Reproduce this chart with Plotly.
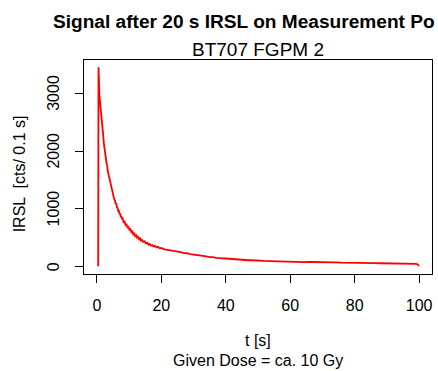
import plotly.graph_objects as go

# Data (time in s, IRSL counts per 0.1 s)
time_s = [0.4, 0.5, 0.6, 0.7, 0.8, 0.9, 1.0, 1.1, 1.2, 1.3, 1.4, 1.5, 1.6, 1.7, 1.8, 1.9,
          2.0, 2.2, 2.4, 2.6, 2.8, 3.0, 3.2, 3.4, 3.6, 3.8, 4.0, 4.2, 4.4, 4.6, 4.8,
          5.0, 5.2, 5.4, 5.6, 5.8, 6.0, 6.2, 6.4, 6.6, 6.8, 7.0, 7.2, 7.4, 7.6, 7.8,
          8.0, 8.3, 8.6, 8.9, 9.2, 9.5, 9.8, 10.1, 10.4, 10.7, 11.0, 11.3, 11.6, 11.9,
          12.2, 12.5, 12.8, 13.1, 13.4, 13.7, 14.0, 14.4, 14.8, 15.2, 15.6, 16.0, 16.4,
          16.8, 17.2, 17.6, 18.0, 18.5, 19.0, 19.5, 20.0,
          21, 22, 23, 24, 25, 26, 27, 28, 29, 30, 31, 32, 33, 34, 35, 36, 37, 38, 39,
          40, 41, 42, 43, 44, 45, 46, 47, 48, 49, 50,
          52, 54, 56, 58, 60, 62, 64, 66, 68, 70, 72, 74, 76, 78, 80, 82, 84, 86, 88,
          90, 92, 94, 96, 98, 99, 99.5, 100]
irsl_counts = [10, 3450, 3420, 3150, 2950, 2900, 2850, 2760, 2740, 2640, 2600, 2530, 2500,
               2420, 2390, 2290, 2250, 2110, 2050, 1940, 1880, 1780, 1750, 1650, 1600,
               1500, 1480, 1410, 1390, 1300, 1300,
               1230, 1210, 1170, 1150, 1090, 1100, 1030, 1020, 970, 980, 910, 920, 860,
               880, 820, 830, 770, 780, 720, 730, 680, 690, 640, 650, 600, 610, 560, 575,
               530, 545, 500, 515, 475, 490, 450, 465, 430, 440, 405, 415, 380, 395, 365,
               375, 350, 360, 335, 345, 318, 325,
               300, 292, 272, 275, 255, 252, 235, 233, 216, 210, 196, 194, 180, 178, 165,
               166, 153, 154, 143, 142, 136, 134, 127, 126, 118, 119, 112, 112, 107, 106,
               101, 98, 93, 91, 87, 86, 81, 82, 77, 78, 74, 74, 70, 71, 67, 66, 63, 63, 60,
               60, 57, 57, 54, 52, 48, 42, 15]

x_ticks = [0, 20, 40, 60, 80, 100]
y_ticks = [0, 1000, 2000, 3000]

main_title = "Signal after 20 s IRSL on Measurement Po"
sub_title = "BT707 FGPM 2"
x_label = "t [s]"
x_sub = "Given Dose = ca. 10 Gy"
y_label = "IRSL  [cts/ 0.1 s]"

FONT = "Liberation Sans, Arial, Helvetica, sans-serif"

fig = go.Figure()
fig.add_trace(go.Scatter(x=time_s, y=irsl_counts, mode="lines",
                         line=dict(color="#ff0000", width=1.8), showlegend=False))

axis_common = dict(showline=True, linecolor="black", linewidth=1, mirror=True,
                   ticks="outside", ticklen=8, tickcolor="black", tickwidth=1,
                   showgrid=False, zeroline=False,
                   tickfont=dict(family=FONT, size=16, color="black"))

fig.update_xaxes(range=[-4, 104], tickvals=x_ticks, ticklabelstandoff=9, **axis_common)
fig.update_yaxes(range=[-126, 3576], tickvals=y_ticks, showticklabels=False, **axis_common)

ann = dict(xref="paper", yref="paper", showarrow=False)
annotations = [
    dict(text="<b>" + main_title + "</b>", x=-0.096, y=1.179, xanchor="left",
         yanchor="middle", font=dict(size=19.1), **ann),
    dict(text=sub_title, x=0.5, y=1.047, xanchor="center", yanchor="middle",
         font=dict(size=19), **ann),
    dict(text=x_label, x=0.5, y=-0.313, xanchor="center", yanchor="middle",
         font=dict(size=16), **ann),
    dict(text=x_sub, x=0.5, y=-0.402, xanchor="center", yanchor="middle",
         font=dict(size=16), **ann),
    dict(text=y_label, x=-0.187, y=0.47, xanchor="center", yanchor="middle",
         textangle=-90, font=dict(size=16), **ann),
]
# rotated y tick labels (R style), placed at the tick values on the y scale
for v in y_ticks:
    annotations.append(dict(text=str(v), xref="paper", yref="y", x=(53.5 - 84) / 348, y=v,
                            xanchor="center", yanchor="middle", textangle=-90,
                            showarrow=False, font=dict(size=16)))

fig.update_layout(
    width=438, height=371,
    margin=dict(l=84, r=6, t=60, b=97),
    paper_bgcolor="white", plot_bgcolor="white",
    font=dict(family=FONT, color="black"),
    annotations=annotations,
)

fig.write_html("out.html")
